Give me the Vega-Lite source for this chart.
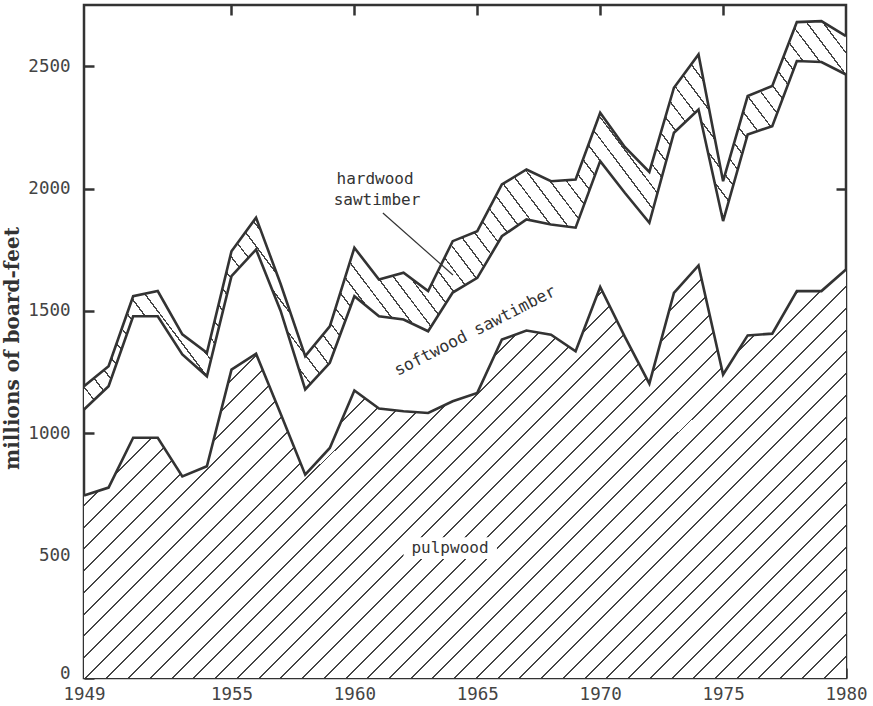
{
  "$schema": "https://vega.github.io/schema/vega-lite/v6.json",
  "width": 762,
  "height": 673,
  "autosize": {"type": "none"},
  "padding": {"left": 84, "top": 5, "right": 27, "bottom": 28},
  "background": "white",
  "config": {
    "view": {"stroke": "#333", "strokeWidth": 2.5},
    "axis": {
      "grid": false,
      "domain": false,
      "tickSize": -10,
      "tickWidth": 2.5,
      "tickColor": "#333",
      "labelFont": "DejaVu Sans Mono",
      "labelFontSize": 17.5,
      "labelColor": "#444"
    }
  },
  "datasets": {
    "harvest": [
      {"year": 1949, "pulpwood": 746, "softwood": 351, "hardwood": 95},
      {"year": 1950, "pulpwood": 778, "softwood": 414, "hardwood": 82},
      {"year": 1951, "pulpwood": 982, "softwood": 496, "hardwood": 82},
      {"year": 1952, "pulpwood": 982, "softwood": 496, "hardwood": 103},
      {"year": 1953, "pulpwood": 824, "softwood": 498, "hardwood": 82},
      {"year": 1954, "pulpwood": 865, "softwood": 368, "hardwood": 96},
      {"year": 1955, "pulpwood": 1260, "softwood": 382, "hardwood": 102},
      {"year": 1956, "pulpwood": 1325, "softwood": 426, "hardwood": 130},
      {"year": 1957, "pulpwood": 1080, "softwood": 420, "hardwood": 110},
      {"year": 1958, "pulpwood": 831, "softwood": 348, "hardwood": 136},
      {"year": 1959, "pulpwood": 940, "softwood": 348, "hardwood": 149},
      {"year": 1960, "pulpwood": 1175, "softwood": 385, "hardwood": 198},
      {"year": 1961, "pulpwood": 1101, "softwood": 377, "hardwood": 150},
      {"year": 1962, "pulpwood": 1090, "softwood": 375, "hardwood": 191},
      {"year": 1963, "pulpwood": 1083, "softwood": 334, "hardwood": 164},
      {"year": 1964, "pulpwood": 1131, "softwood": 444, "hardwood": 210},
      {"year": 1965, "pulpwood": 1165, "softwood": 470, "hardwood": 191},
      {"year": 1966, "pulpwood": 1383, "softwood": 422, "hardwood": 212},
      {"year": 1967, "pulpwood": 1420, "softwood": 454, "hardwood": 204},
      {"year": 1968, "pulpwood": 1403, "softwood": 450, "hardwood": 177},
      {"year": 1969, "pulpwood": 1335, "softwood": 505, "hardwood": 197},
      {"year": 1970, "pulpwood": 1598, "softwood": 514, "hardwood": 198},
      {"year": 1971, "pulpwood": 1395, "softwood": 588, "hardwood": 187},
      {"year": 1972, "pulpwood": 1203, "softwood": 657, "hardwood": 208},
      {"year": 1973, "pulpwood": 1574, "softwood": 654, "hardwood": 184},
      {"year": 1974, "pulpwood": 1686, "softwood": 637, "hardwood": 225},
      {"year": 1975, "pulpwood": 1240, "softwood": 627, "hardwood": 163},
      {"year": 1976, "pulpwood": 1400, "softwood": 821, "hardwood": 157},
      {"year": 1977, "pulpwood": 1407, "softwood": 848, "hardwood": 164},
      {"year": 1978, "pulpwood": 1581, "softwood": 940, "hardwood": 159},
      {"year": 1979, "pulpwood": 1581, "softwood": 936, "hardwood": 167},
      {"year": 1980, "pulpwood": 1669, "softwood": 797, "hardwood": 157}
    ],
    "stackOrder": [
      {"type": "pulpwood", "rank": 1},
      {"type": "softwood", "rank": 2},
      {"type": "hardwood", "rank": 3}
    ]
  },
  "resolve": {"axis": {"x": "independent", "y": "independent"}},
  "layer": [
    {
      "data": {"name": "harvest"},
      "transform": [
        {"fold": ["pulpwood", "softwood", "hardwood"], "as": ["type", "value"]},
        {"lookup": "type", "from": {"data": {"name": "stackOrder"}, "key": "type", "fields": ["rank"]}},
        {"stack": "value", "groupby": ["year"], "sort": [{"field": "rank"}], "as": ["lo", "hi"]},
        {"filter": "datum.type === 'pulpwood'"}
      ],
      "mark": {
        "type": "area",
        "fillOpacity": 1,
        "fill": {
          "gradient": "linear", "x1": 0, "y1": 0, "x2": 1.192, "y2": 0.6456,
          "stops": [
            {"offset":0,"color":"#fff"},
            {"offset":0.0185,"color":"#fff"},{"offset":0.0185,"color":"#444"},{"offset":0.0202,"color":"#444"},{"offset":0.0202,"color":"#fff"},
            {"offset":0.037,"color":"#fff"},{"offset":0.037,"color":"#444"},{"offset":0.0387,"color":"#444"},{"offset":0.0387,"color":"#fff"},
            {"offset":0.0555,"color":"#fff"},{"offset":0.0555,"color":"#444"},{"offset":0.0572,"color":"#444"},{"offset":0.0572,"color":"#fff"},
            {"offset":0.074,"color":"#fff"},{"offset":0.074,"color":"#444"},{"offset":0.0757,"color":"#444"},{"offset":0.0757,"color":"#fff"},
            {"offset":0.0925,"color":"#fff"},{"offset":0.0925,"color":"#444"},{"offset":0.0942,"color":"#444"},{"offset":0.0942,"color":"#fff"},
            {"offset":0.111,"color":"#fff"},{"offset":0.111,"color":"#444"},{"offset":0.1127,"color":"#444"},{"offset":0.1127,"color":"#fff"},
            {"offset":0.1295,"color":"#fff"},{"offset":0.1295,"color":"#444"},{"offset":0.1312,"color":"#444"},{"offset":0.1312,"color":"#fff"},
            {"offset":0.148,"color":"#fff"},{"offset":0.148,"color":"#444"},{"offset":0.1497,"color":"#444"},{"offset":0.1497,"color":"#fff"},
            {"offset":0.1665,"color":"#fff"},{"offset":0.1665,"color":"#444"},{"offset":0.1682,"color":"#444"},{"offset":0.1682,"color":"#fff"},
            {"offset":0.185,"color":"#fff"},{"offset":0.185,"color":"#444"},{"offset":0.1867,"color":"#444"},{"offset":0.1867,"color":"#fff"},
            {"offset":0.2035,"color":"#fff"},{"offset":0.2035,"color":"#444"},{"offset":0.2052,"color":"#444"},{"offset":0.2052,"color":"#fff"},
            {"offset":0.222,"color":"#fff"},{"offset":0.222,"color":"#444"},{"offset":0.2237,"color":"#444"},{"offset":0.2237,"color":"#fff"},
            {"offset":0.2405,"color":"#fff"},{"offset":0.2405,"color":"#444"},{"offset":0.2422,"color":"#444"},{"offset":0.2422,"color":"#fff"},
            {"offset":0.259,"color":"#fff"},{"offset":0.259,"color":"#444"},{"offset":0.2607,"color":"#444"},{"offset":0.2607,"color":"#fff"},
            {"offset":0.2775,"color":"#fff"},{"offset":0.2775,"color":"#444"},{"offset":0.2792,"color":"#444"},{"offset":0.2792,"color":"#fff"},
            {"offset":0.296,"color":"#fff"},{"offset":0.296,"color":"#444"},{"offset":0.2977,"color":"#444"},{"offset":0.2977,"color":"#fff"},
            {"offset":0.3145,"color":"#fff"},{"offset":0.3145,"color":"#444"},{"offset":0.3162,"color":"#444"},{"offset":0.3162,"color":"#fff"},
            {"offset":0.333,"color":"#fff"},{"offset":0.333,"color":"#444"},{"offset":0.3347,"color":"#444"},{"offset":0.3347,"color":"#fff"},
            {"offset":0.3515,"color":"#fff"},{"offset":0.3515,"color":"#444"},{"offset":0.3532,"color":"#444"},{"offset":0.3532,"color":"#fff"},
            {"offset":0.37,"color":"#fff"},{"offset":0.37,"color":"#444"},{"offset":0.3717,"color":"#444"},{"offset":0.3717,"color":"#fff"},
            {"offset":0.3885,"color":"#fff"},{"offset":0.3885,"color":"#444"},{"offset":0.3902,"color":"#444"},{"offset":0.3902,"color":"#fff"},
            {"offset":0.407,"color":"#fff"},{"offset":0.407,"color":"#444"},{"offset":0.4087,"color":"#444"},{"offset":0.4087,"color":"#fff"},
            {"offset":0.4255,"color":"#fff"},{"offset":0.4255,"color":"#444"},{"offset":0.4272,"color":"#444"},{"offset":0.4272,"color":"#fff"},
            {"offset":0.444,"color":"#fff"},{"offset":0.444,"color":"#444"},{"offset":0.4457,"color":"#444"},{"offset":0.4457,"color":"#fff"},
            {"offset":0.4625,"color":"#fff"},{"offset":0.4625,"color":"#444"},{"offset":0.4642,"color":"#444"},{"offset":0.4642,"color":"#fff"},
            {"offset":0.481,"color":"#fff"},{"offset":0.481,"color":"#444"},{"offset":0.4827,"color":"#444"},{"offset":0.4827,"color":"#fff"},
            {"offset":0.4995,"color":"#fff"},{"offset":0.4995,"color":"#444"},{"offset":0.5012,"color":"#444"},{"offset":0.5012,"color":"#fff"},
            {"offset":0.518,"color":"#fff"},{"offset":0.518,"color":"#444"},{"offset":0.5197,"color":"#444"},{"offset":0.5197,"color":"#fff"},
            {"offset":0.5365,"color":"#fff"},{"offset":0.5365,"color":"#444"},{"offset":0.5382,"color":"#444"},{"offset":0.5382,"color":"#fff"},
            {"offset":0.555,"color":"#fff"},{"offset":0.555,"color":"#444"},{"offset":0.5567,"color":"#444"},{"offset":0.5567,"color":"#fff"},
            {"offset":0.5735,"color":"#fff"},{"offset":0.5735,"color":"#444"},{"offset":0.5752,"color":"#444"},{"offset":0.5752,"color":"#fff"},
            {"offset":0.592,"color":"#fff"},{"offset":0.592,"color":"#444"},{"offset":0.5937,"color":"#444"},{"offset":0.5937,"color":"#fff"},
            {"offset":0.6105,"color":"#fff"},{"offset":0.6105,"color":"#444"},{"offset":0.6122,"color":"#444"},{"offset":0.6122,"color":"#fff"},
            {"offset":0.629,"color":"#fff"},{"offset":0.629,"color":"#444"},{"offset":0.6307,"color":"#444"},{"offset":0.6307,"color":"#fff"},
            {"offset":0.6475,"color":"#fff"},{"offset":0.6475,"color":"#444"},{"offset":0.6492,"color":"#444"},{"offset":0.6492,"color":"#fff"},
            {"offset":0.666,"color":"#fff"},{"offset":0.666,"color":"#444"},{"offset":0.6677,"color":"#444"},{"offset":0.6677,"color":"#fff"},
            {"offset":0.6845,"color":"#fff"},{"offset":0.6845,"color":"#444"},{"offset":0.6862,"color":"#444"},{"offset":0.6862,"color":"#fff"},
            {"offset":0.703,"color":"#fff"},{"offset":0.703,"color":"#444"},{"offset":0.7047,"color":"#444"},{"offset":0.7047,"color":"#fff"},
            {"offset":0.7215,"color":"#fff"},{"offset":0.7215,"color":"#444"},{"offset":0.7232,"color":"#444"},{"offset":0.7232,"color":"#fff"},
            {"offset":0.74,"color":"#fff"},{"offset":0.74,"color":"#444"},{"offset":0.7417,"color":"#444"},{"offset":0.7417,"color":"#fff"},
            {"offset":0.7585,"color":"#fff"},{"offset":0.7585,"color":"#444"},{"offset":0.7602,"color":"#444"},{"offset":0.7602,"color":"#fff"},
            {"offset":0.777,"color":"#fff"},{"offset":0.777,"color":"#444"},{"offset":0.7787,"color":"#444"},{"offset":0.7787,"color":"#fff"},
            {"offset":0.7955,"color":"#fff"},{"offset":0.7955,"color":"#444"},{"offset":0.7972,"color":"#444"},{"offset":0.7972,"color":"#fff"},
            {"offset":0.814,"color":"#fff"},{"offset":0.814,"color":"#444"},{"offset":0.8157,"color":"#444"},{"offset":0.8157,"color":"#fff"},
            {"offset":0.8325,"color":"#fff"},{"offset":0.8325,"color":"#444"},{"offset":0.8342,"color":"#444"},{"offset":0.8342,"color":"#fff"},
            {"offset":0.851,"color":"#fff"},{"offset":0.851,"color":"#444"},{"offset":0.8527,"color":"#444"},{"offset":0.8527,"color":"#fff"},
            {"offset":0.8695,"color":"#fff"},{"offset":0.8695,"color":"#444"},{"offset":0.8712,"color":"#444"},{"offset":0.8712,"color":"#fff"},
            {"offset":0.888,"color":"#fff"},{"offset":0.888,"color":"#444"},{"offset":0.8897,"color":"#444"},{"offset":0.8897,"color":"#fff"},
            {"offset":0.9065,"color":"#fff"},{"offset":0.9065,"color":"#444"},{"offset":0.9082,"color":"#444"},{"offset":0.9082,"color":"#fff"},
            {"offset":0.925,"color":"#fff"},{"offset":0.925,"color":"#444"},{"offset":0.9267,"color":"#444"},{"offset":0.9267,"color":"#fff"},
            {"offset":0.9435,"color":"#fff"},{"offset":0.9435,"color":"#444"},{"offset":0.9452,"color":"#444"},{"offset":0.9452,"color":"#fff"},
            {"offset":0.962,"color":"#fff"},{"offset":0.962,"color":"#444"},{"offset":0.9637,"color":"#444"},{"offset":0.9637,"color":"#fff"},
            {"offset":0.9805,"color":"#fff"},{"offset":0.9805,"color":"#444"},{"offset":0.9822,"color":"#444"},{"offset":0.9822,"color":"#fff"},
            {"offset":1,"color":"#fff"}
          ]
        }
      },
      "encoding": {
        "x": {
          "field": "year", "type": "quantitative",
          "scale": {"domain": [1949, 1980], "nice": false, "zero": false},
          "axis": {"orient": "bottom", "values": [1949, 1955, 1960, 1965, 1970, 1975, 1980], "format": "d", "title": null, "labelPadding": 17, "labelFlush": false}
        },
        "y": {
          "field": "hi", "type": "quantitative", "stack": null,
          "scale": {"domain": [0, 2750], "nice": false},
          "axis": {
            "orient": "left", "values": [0, 500, 1000, 1500, 2000, 2500], "format": "d",
            "labelBaseline": {"condition": {"test": "datum.value === 0", "value": "alphabetic"}, "value": "middle"},
            "title": "millions of board-feet", "titleFont": "DejaVu Serif", "titleFontWeight": "bold",
            "titleFontSize": 20, "titleColor": "#333", "titlePadding": 5, "titleY": 343, "labelPadding": 24
          }
        },
        "y2": {"field": "lo"}
      }
    },
    {
      "data": {"name": "harvest"},
      "transform": [
        {"fold": ["pulpwood", "softwood", "hardwood"], "as": ["type", "value"]},
        {"lookup": "type", "from": {"data": {"name": "stackOrder"}, "key": "type", "fields": ["rank"]}},
        {"stack": "value", "groupby": ["year"], "sort": [{"field": "rank"}], "as": ["lo", "hi"]},
        {"filter": "datum.type === 'hardwood'"}
      ],
      "mark": {
        "type": "area",
        "fillOpacity": 1,
        "fill": {
          "gradient": "linear", "x1": 0, "y1": 1, "x2": 1.2061, "y2": 0.5368,
          "stops": [
            {"offset":0,"color":"#fff"},
            {"offset":0.0155,"color":"#fff"},{"offset":0.0155,"color":"#444"},{"offset":0.0171,"color":"#444"},{"offset":0.0171,"color":"#fff"},
            {"offset":0.031,"color":"#fff"},{"offset":0.031,"color":"#444"},{"offset":0.0326,"color":"#444"},{"offset":0.0326,"color":"#fff"},
            {"offset":0.0465,"color":"#fff"},{"offset":0.0465,"color":"#444"},{"offset":0.0481,"color":"#444"},{"offset":0.0481,"color":"#fff"},
            {"offset":0.062,"color":"#fff"},{"offset":0.062,"color":"#444"},{"offset":0.0636,"color":"#444"},{"offset":0.0636,"color":"#fff"},
            {"offset":0.0775,"color":"#fff"},{"offset":0.0775,"color":"#444"},{"offset":0.0791,"color":"#444"},{"offset":0.0791,"color":"#fff"},
            {"offset":0.093,"color":"#fff"},{"offset":0.093,"color":"#444"},{"offset":0.0946,"color":"#444"},{"offset":0.0946,"color":"#fff"},
            {"offset":0.1085,"color":"#fff"},{"offset":0.1085,"color":"#444"},{"offset":0.1101,"color":"#444"},{"offset":0.1101,"color":"#fff"},
            {"offset":0.124,"color":"#fff"},{"offset":0.124,"color":"#444"},{"offset":0.1256,"color":"#444"},{"offset":0.1256,"color":"#fff"},
            {"offset":0.1395,"color":"#fff"},{"offset":0.1395,"color":"#444"},{"offset":0.1411,"color":"#444"},{"offset":0.1411,"color":"#fff"},
            {"offset":0.155,"color":"#fff"},{"offset":0.155,"color":"#444"},{"offset":0.1566,"color":"#444"},{"offset":0.1566,"color":"#fff"},
            {"offset":0.1705,"color":"#fff"},{"offset":0.1705,"color":"#444"},{"offset":0.1721,"color":"#444"},{"offset":0.1721,"color":"#fff"},
            {"offset":0.186,"color":"#fff"},{"offset":0.186,"color":"#444"},{"offset":0.1876,"color":"#444"},{"offset":0.1876,"color":"#fff"},
            {"offset":0.2015,"color":"#fff"},{"offset":0.2015,"color":"#444"},{"offset":0.2031,"color":"#444"},{"offset":0.2031,"color":"#fff"},
            {"offset":0.217,"color":"#fff"},{"offset":0.217,"color":"#444"},{"offset":0.2186,"color":"#444"},{"offset":0.2186,"color":"#fff"},
            {"offset":0.2325,"color":"#fff"},{"offset":0.2325,"color":"#444"},{"offset":0.2341,"color":"#444"},{"offset":0.2341,"color":"#fff"},
            {"offset":0.248,"color":"#fff"},{"offset":0.248,"color":"#444"},{"offset":0.2496,"color":"#444"},{"offset":0.2496,"color":"#fff"},
            {"offset":0.2635,"color":"#fff"},{"offset":0.2635,"color":"#444"},{"offset":0.2651,"color":"#444"},{"offset":0.2651,"color":"#fff"},
            {"offset":0.279,"color":"#fff"},{"offset":0.279,"color":"#444"},{"offset":0.2806,"color":"#444"},{"offset":0.2806,"color":"#fff"},
            {"offset":0.2945,"color":"#fff"},{"offset":0.2945,"color":"#444"},{"offset":0.2961,"color":"#444"},{"offset":0.2961,"color":"#fff"},
            {"offset":0.31,"color":"#fff"},{"offset":0.31,"color":"#444"},{"offset":0.3116,"color":"#444"},{"offset":0.3116,"color":"#fff"},
            {"offset":0.3255,"color":"#fff"},{"offset":0.3255,"color":"#444"},{"offset":0.3271,"color":"#444"},{"offset":0.3271,"color":"#fff"},
            {"offset":0.341,"color":"#fff"},{"offset":0.341,"color":"#444"},{"offset":0.3426,"color":"#444"},{"offset":0.3426,"color":"#fff"},
            {"offset":0.3565,"color":"#fff"},{"offset":0.3565,"color":"#444"},{"offset":0.3581,"color":"#444"},{"offset":0.3581,"color":"#fff"},
            {"offset":0.372,"color":"#fff"},{"offset":0.372,"color":"#444"},{"offset":0.3736,"color":"#444"},{"offset":0.3736,"color":"#fff"},
            {"offset":0.3875,"color":"#fff"},{"offset":0.3875,"color":"#444"},{"offset":0.3891,"color":"#444"},{"offset":0.3891,"color":"#fff"},
            {"offset":0.403,"color":"#fff"},{"offset":0.403,"color":"#444"},{"offset":0.4046,"color":"#444"},{"offset":0.4046,"color":"#fff"},
            {"offset":0.4185,"color":"#fff"},{"offset":0.4185,"color":"#444"},{"offset":0.4201,"color":"#444"},{"offset":0.4201,"color":"#fff"},
            {"offset":0.434,"color":"#fff"},{"offset":0.434,"color":"#444"},{"offset":0.4356,"color":"#444"},{"offset":0.4356,"color":"#fff"},
            {"offset":0.4495,"color":"#fff"},{"offset":0.4495,"color":"#444"},{"offset":0.4511,"color":"#444"},{"offset":0.4511,"color":"#fff"},
            {"offset":0.465,"color":"#fff"},{"offset":0.465,"color":"#444"},{"offset":0.4666,"color":"#444"},{"offset":0.4666,"color":"#fff"},
            {"offset":0.4805,"color":"#fff"},{"offset":0.4805,"color":"#444"},{"offset":0.4821,"color":"#444"},{"offset":0.4821,"color":"#fff"},
            {"offset":0.496,"color":"#fff"},{"offset":0.496,"color":"#444"},{"offset":0.4976,"color":"#444"},{"offset":0.4976,"color":"#fff"},
            {"offset":0.5115,"color":"#fff"},{"offset":0.5115,"color":"#444"},{"offset":0.5131,"color":"#444"},{"offset":0.5131,"color":"#fff"},
            {"offset":0.527,"color":"#fff"},{"offset":0.527,"color":"#444"},{"offset":0.5286,"color":"#444"},{"offset":0.5286,"color":"#fff"},
            {"offset":0.5425,"color":"#fff"},{"offset":0.5425,"color":"#444"},{"offset":0.5441,"color":"#444"},{"offset":0.5441,"color":"#fff"},
            {"offset":0.558,"color":"#fff"},{"offset":0.558,"color":"#444"},{"offset":0.5596,"color":"#444"},{"offset":0.5596,"color":"#fff"},
            {"offset":0.5735,"color":"#fff"},{"offset":0.5735,"color":"#444"},{"offset":0.5751,"color":"#444"},{"offset":0.5751,"color":"#fff"},
            {"offset":0.589,"color":"#fff"},{"offset":0.589,"color":"#444"},{"offset":0.5906,"color":"#444"},{"offset":0.5906,"color":"#fff"},
            {"offset":0.6045,"color":"#fff"},{"offset":0.6045,"color":"#444"},{"offset":0.6061,"color":"#444"},{"offset":0.6061,"color":"#fff"},
            {"offset":0.62,"color":"#fff"},{"offset":0.62,"color":"#444"},{"offset":0.6216,"color":"#444"},{"offset":0.6216,"color":"#fff"},
            {"offset":0.6355,"color":"#fff"},{"offset":0.6355,"color":"#444"},{"offset":0.6371,"color":"#444"},{"offset":0.6371,"color":"#fff"},
            {"offset":0.651,"color":"#fff"},{"offset":0.651,"color":"#444"},{"offset":0.6526,"color":"#444"},{"offset":0.6526,"color":"#fff"},
            {"offset":0.6665,"color":"#fff"},{"offset":0.6665,"color":"#444"},{"offset":0.6681,"color":"#444"},{"offset":0.6681,"color":"#fff"},
            {"offset":0.682,"color":"#fff"},{"offset":0.682,"color":"#444"},{"offset":0.6836,"color":"#444"},{"offset":0.6836,"color":"#fff"},
            {"offset":0.6975,"color":"#fff"},{"offset":0.6975,"color":"#444"},{"offset":0.6991,"color":"#444"},{"offset":0.6991,"color":"#fff"},
            {"offset":0.713,"color":"#fff"},{"offset":0.713,"color":"#444"},{"offset":0.7146,"color":"#444"},{"offset":0.7146,"color":"#fff"},
            {"offset":0.7285,"color":"#fff"},{"offset":0.7285,"color":"#444"},{"offset":0.7301,"color":"#444"},{"offset":0.7301,"color":"#fff"},
            {"offset":0.744,"color":"#fff"},{"offset":0.744,"color":"#444"},{"offset":0.7456,"color":"#444"},{"offset":0.7456,"color":"#fff"},
            {"offset":0.7595,"color":"#fff"},{"offset":0.7595,"color":"#444"},{"offset":0.7611,"color":"#444"},{"offset":0.7611,"color":"#fff"},
            {"offset":0.775,"color":"#fff"},{"offset":0.775,"color":"#444"},{"offset":0.7766,"color":"#444"},{"offset":0.7766,"color":"#fff"},
            {"offset":0.7905,"color":"#fff"},{"offset":0.7905,"color":"#444"},{"offset":0.7921,"color":"#444"},{"offset":0.7921,"color":"#fff"},
            {"offset":0.806,"color":"#fff"},{"offset":0.806,"color":"#444"},{"offset":0.8076,"color":"#444"},{"offset":0.8076,"color":"#fff"},
            {"offset":0.8215,"color":"#fff"},{"offset":0.8215,"color":"#444"},{"offset":0.8231,"color":"#444"},{"offset":0.8231,"color":"#fff"},
            {"offset":0.837,"color":"#fff"},{"offset":0.837,"color":"#444"},{"offset":0.8386,"color":"#444"},{"offset":0.8386,"color":"#fff"},
            {"offset":0.8525,"color":"#fff"},{"offset":0.8525,"color":"#444"},{"offset":0.8541,"color":"#444"},{"offset":0.8541,"color":"#fff"},
            {"offset":0.868,"color":"#fff"},{"offset":0.868,"color":"#444"},{"offset":0.8696,"color":"#444"},{"offset":0.8696,"color":"#fff"},
            {"offset":0.8835,"color":"#fff"},{"offset":0.8835,"color":"#444"},{"offset":0.8851,"color":"#444"},{"offset":0.8851,"color":"#fff"},
            {"offset":0.899,"color":"#fff"},{"offset":0.899,"color":"#444"},{"offset":0.9006,"color":"#444"},{"offset":0.9006,"color":"#fff"},
            {"offset":0.9145,"color":"#fff"},{"offset":0.9145,"color":"#444"},{"offset":0.9161,"color":"#444"},{"offset":0.9161,"color":"#fff"},
            {"offset":0.93,"color":"#fff"},{"offset":0.93,"color":"#444"},{"offset":0.9316,"color":"#444"},{"offset":0.9316,"color":"#fff"},
            {"offset":0.9455,"color":"#fff"},{"offset":0.9455,"color":"#444"},{"offset":0.9471,"color":"#444"},{"offset":0.9471,"color":"#fff"},
            {"offset":0.961,"color":"#fff"},{"offset":0.961,"color":"#444"},{"offset":0.9626,"color":"#444"},{"offset":0.9626,"color":"#fff"},
            {"offset":0.9765,"color":"#fff"},{"offset":0.9765,"color":"#444"},{"offset":0.9781,"color":"#444"},{"offset":0.9781,"color":"#fff"},
            {"offset":0.992,"color":"#fff"},{"offset":0.992,"color":"#444"},{"offset":0.9936,"color":"#444"},{"offset":0.9936,"color":"#fff"},
            {"offset":1,"color":"#fff"}
          ]
        }
      },
      "encoding": {
        "x": {"field": "year", "type": "quantitative", "axis": null},
        "y": {"field": "hi", "type": "quantitative", "stack": null, "axis": null},
        "y2": {"field": "lo"}
      }
    },
    {
      "data": {"values": [{"from": 1962.0, "to": 1965.8, "low": 486, "high": 575}]},
      "mark": {"type": "rect", "fill": "white"},
      "encoding": {
        "x": {"field": "from", "type": "quantitative", "axis": null},
        "x2": {"field": "to"},
        "y": {"field": "low", "type": "quantitative", "axis": null},
        "y2": {"field": "high"}
      }
    },
    {
      "data": {"name": "harvest"},
      "transform": [
        {"fold": ["pulpwood", "softwood", "hardwood"], "as": ["type", "value"]},
        {"lookup": "type", "from": {"data": {"name": "stackOrder"}, "key": "type", "fields": ["rank"]}},
        {"stack": "value", "groupby": ["year"], "sort": [{"field": "rank"}], "as": ["lo", "hi"]}
      ],
      "mark": {"type": "line", "stroke": "#333", "strokeWidth": 2.6, "strokeJoin": "miter"},
      "encoding": {
        "x": {
          "field": "year", "type": "quantitative",
          "axis": {"orient": "top", "values": [1955, 1960, 1965, 1970, 1975], "labels": false, "title": null}
        },
        "y": {
          "field": "hi", "type": "quantitative", "stack": null,
          "axis": {"orient": "right", "values": [500, 1000, 1500, 2000, 2500], "labels": false, "title": null}
        },
        "detail": {"field": "type"}
      }
    },
    {
      "data": {"values": [{"x": 1961.16, "x2": 1964.01, "y": 1900, "y2": 1647}]},
      "mark": {"type": "rule", "stroke": "#333", "strokeWidth": 1.2},
      "encoding": {
        "x": {"field": "x", "type": "quantitative", "axis": null},
        "x2": {"field": "x2"},
        "y": {"field": "y", "type": "quantitative", "axis": null},
        "y2": {"field": "y2"}
      }
    },
    {
      "data": {"values": [
        {"label": "hardwood", "year": 1960.84, "amount": 2039},
        {"label": "sawtimber", "year": 1960.92, "amount": 1953},
        {"label": "pulpwood", "year": 1963.89, "amount": 531}
      ]},
      "mark": {"type": "text", "font": "DejaVu Sans Mono", "fontSize": 16, "fill": "#333", "align": "center", "baseline": "middle"},
      "encoding": {
        "x": {"field": "year", "type": "quantitative", "axis": null},
        "y": {"field": "amount", "type": "quantitative", "axis": null},
        "text": {"field": "label"}
      }
    },
    {
      "data": {"values": [{"label": "softwood sawtimber", "year": 1964.91, "amount": 1418}]},
      "mark": {"type": "text", "font": "DejaVu Sans Mono", "fontSize": 16.5, "fill": "#333", "align": "center", "baseline": "middle", "angle": -27},
      "encoding": {
        "x": {"field": "year", "type": "quantitative", "axis": null},
        "y": {"field": "amount", "type": "quantitative", "axis": null},
        "text": {"field": "label"}
      }
    }
  ]
}
